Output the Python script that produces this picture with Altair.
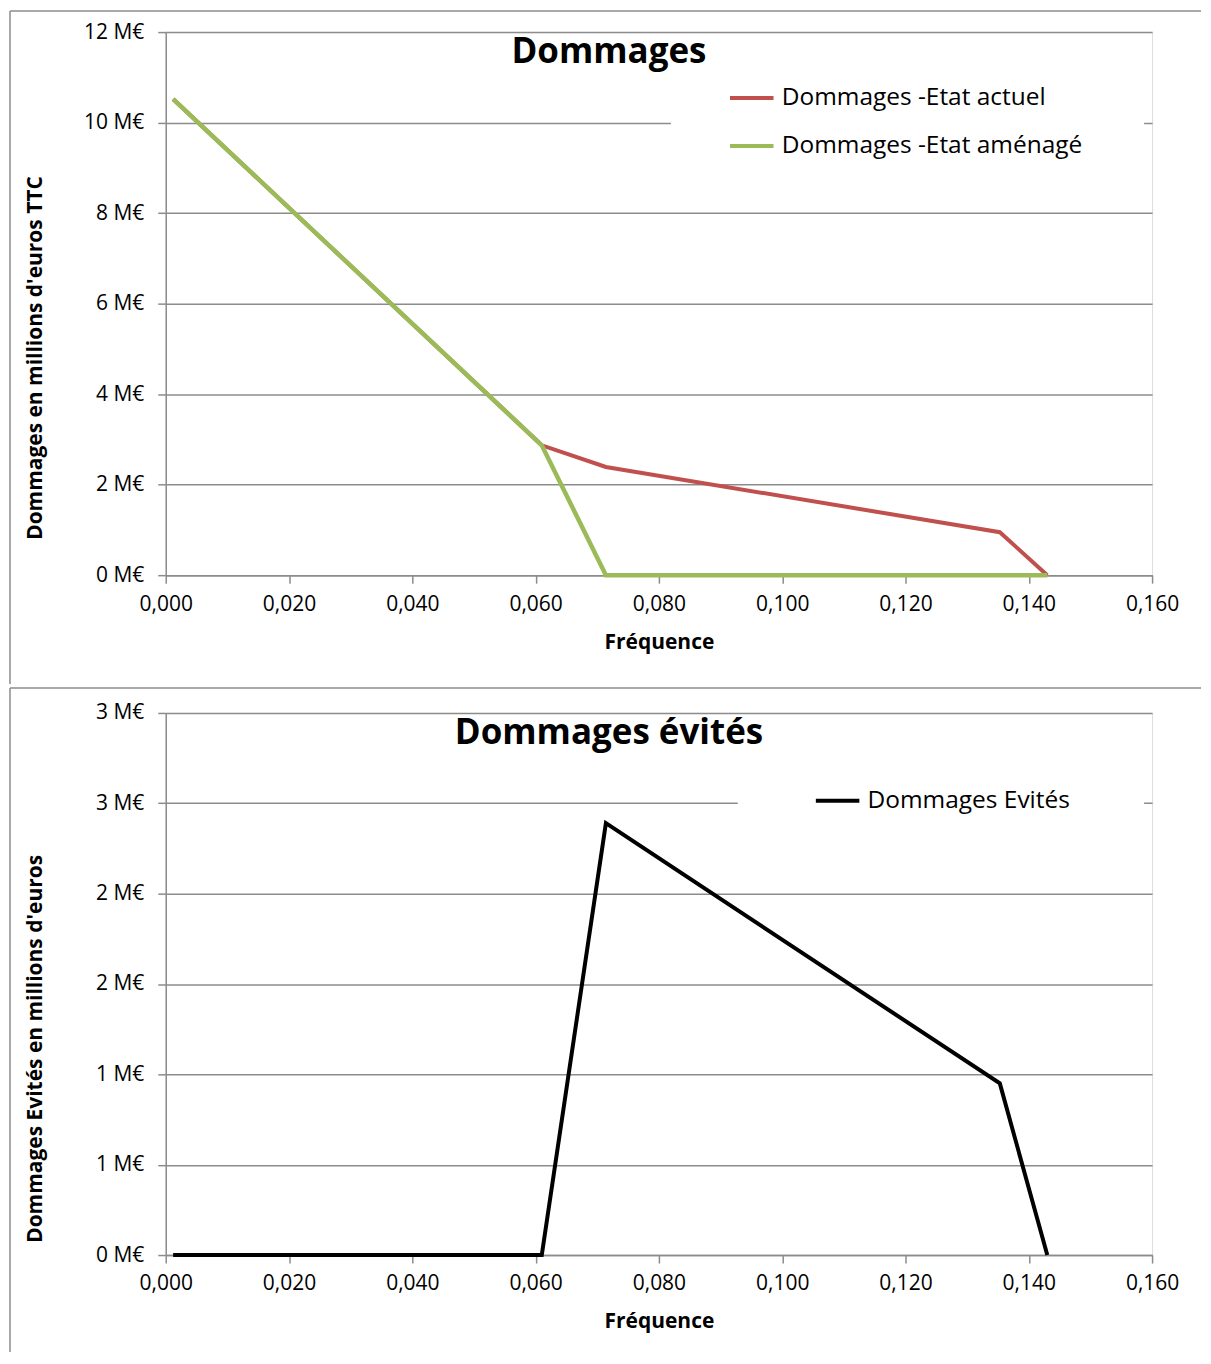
import altair as alt
import pandas as pd

# ---- data ----
freq = [0.0012, 0.0610, 0.0714, 0.1353, 0.1430]
dmg_actuel = [10.52, 2.87, 2.39, 0.95, 0.0]
dmg_amenage = [10.52, 2.87, 0.0, 0.0, 0.0]
dmg_evites = [0.0, 0.0, 2.39, 0.95, 0.0]

serie_actuel = "Dommages -Etat actuel"
serie_amenage = "Dommages -Etat aménagé"
serie_evites = "Dommages Evités"

x_ticks = [0.0, 0.02, 0.04, 0.06, 0.08, 0.10, 0.12, 0.14, 0.16]
y_ticks_top = [0, 2, 4, 6, 8, 10, 12]
y_ticks_bottom = [0, 0.5, 1.0, 1.5, 2.0, 2.5, 3.0]

title_top = "Dommages"
title_bottom = "Dommages évités"
x_title = "Fréquence"
y_title_top = "Dommages  en millions d'euros TTC"
y_title_bottom = "Dommages  Evités en millions d'euros"

RED = "#C0504D"
GREEN = "#9BBB59"
BLACK = "#000000"
GRID = "#8C8C8C"
FONT = "Open Sans"

W, H = 988, 544

df_top = pd.DataFrame(
    {"freq": freq * 2,
     "val": dmg_actuel + dmg_amenage,
     "serie": [serie_actuel] * len(freq) + [serie_amenage] * len(freq)}
)
df_bot = pd.DataFrame({"freq": freq, "val": dmg_evites, "serie": [serie_evites] * len(freq)})

x_lab = "replace(format(datum.value, '.3f'), '.', ',')"
y_lab = "format(datum.value, '.0f') + ' M€'"


def x_enc():
    return alt.X(
        "freq:Q",
        scale=alt.Scale(domain=[0, 0.16], nice=False, zero=False),
        axis=alt.Axis(
            values=x_ticks, labelExpr=x_lab, title=x_title, grid=False,
            tickSize=8, labelPadding=10, labelFontSize=21, labelFont=FONT,
            labelFlush=False, labelAlign="center",
            labelColor="black", titleFont=FONT, titleFontSize=21, titleFontWeight="bold",
            titleColor="black", titleY=67, titleBaseline="middle",
            domainColor=GRID, tickColor=GRID, domainWidth=1.5, tickWidth=1.5,
        ),
    )


def y_enc(domain, ticks, title, title_y):
    return alt.Y(
        "val:Q",
        scale=alt.Scale(domain=domain, nice=False),
        axis=alt.Axis(
            values=ticks, labelExpr=y_lab, title=title, grid=True,
            gridColor=GRID, gridWidth=1.5, tickSize=8, labelPadding=14,
            labelFontSize=21, labelFont=FONT, labelColor="black",
            titleFont=FONT, titleFontSize=21, titleFontWeight="bold", titleColor="black",
            titleX=-130, titleY=title_y, titleAngle=270, titleAlign="center",
            titleBaseline="middle",
            domainColor=GRID, tickColor=GRID, domainWidth=1.5, tickWidth=1.5,
        ),
    )


def legend(x, y, sym_off, right_pad):
    return alt.Legend(
        title="\u00a0", titleOrient="right", titlePadding=right_pad, titleFontSize=8,
        orient="none", legendX=x, legendY=y, fillColor="white",
        padding=10, symbolType="stroke", symbolSize=1900, symbolStrokeWidth=4,
        labelFontSize=24.5, labelFont=FONT, labelColor="black", rowPadding=12,
        labelOffset=6, symbolOffset=sym_off, labelLimit=0,
    )


def borders(top, bottom):
    one = alt.Data(values=[{"k": 1}])
    h = alt.Chart(one).mark_rule(color=GRID, strokeWidth=1.5).encode(
        x=alt.value(-156), x2=alt.value(1037), y=alt.value(top))
    v = alt.Chart(one).mark_rule(color=GRID, strokeWidth=1.5).encode(
        x=alt.value(-156), y=alt.value(top), y2=alt.value(bottom))
    return h, v


def title_text(txt):
    return alt.Chart(alt.Data(values=[{"t": txt}])).mark_text(
        font=FONT, fontSize=35, fontWeight="bold", color="black",
        align="center", baseline="middle").encode(
        x=alt.value(444), y=alt.value(20), text="t:N")


# ---- top chart ----
color_top = alt.Color(
    "serie:N",
    scale=alt.Scale(domain=[serie_actuel, serie_amenage], range=[RED, GREEN]),
    legend=legend(506, 32, 47, 52),
)
base_top = alt.Chart(df_top)
red_line = base_top.transform_filter(alt.datum.serie == serie_actuel).mark_line(
    strokeWidth=4).encode(x=x_enc(), y=y_enc([0, 12], y_ticks_top, y_title_top, 326), color=color_top)
green_line = base_top.transform_filter(alt.datum.serie == serie_amenage).mark_line(
    strokeWidth=4.5).encode(x=x_enc(), y=y_enc([0, 12], y_ticks_top, y_title_top, 326), color=color_top)
h1, v1 = borders(-21, 653)
top = alt.layer(h1, v1, red_line, green_line, title_text(title_top)).properties(width=W, height=H)

# ---- bottom chart ----
color_bot = alt.Color(
    "serie:N",
    scale=alt.Scale(domain=[serie_evites], range=[BLACK]),
    legend=legend(573, 54, 66, 64),
)
black_line = alt.Chart(df_bot).mark_line(strokeWidth=4).encode(
    x=x_enc(), y=y_enc([0, 3], y_ticks_bottom, y_title_bottom, 336), color=color_bot)
h2, v2 = borders(-25, 640)
bottom = alt.layer(h2, v2, black_line, title_text(title_bottom)).properties(width=W, height=543)

chart = alt.vconcat(top, bottom, spacing=0).resolve_scale(color="independent", y="independent").properties(
    padding=0
).configure_view(stroke=None).configure(background="white")

chart.save("out.html", embed_options={"renderer": "svg", "actions": False})
